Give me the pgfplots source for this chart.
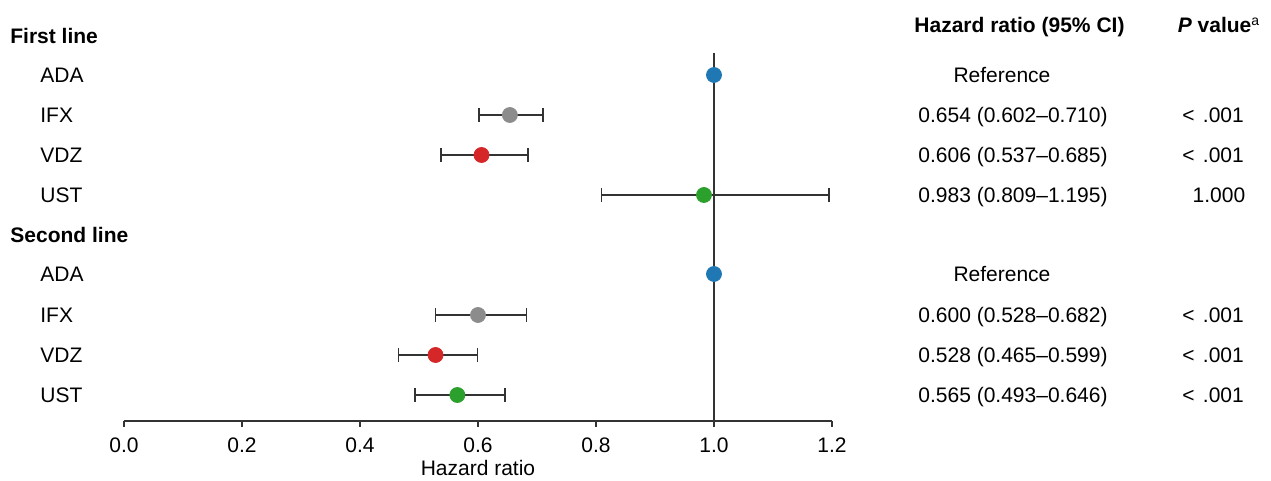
\documentclass[border=0pt]{standalone}
\usepackage{pgfplots}
\pgfplotsset{compat=1.18}
\usepackage{fontspec}
\setmainfont{Liberation Sans}

\definecolor{cblue}{HTML}{1F77B4}
\definecolor{cgrey}{HTML}{8C8C8C}
\definecolor{cred}{HTML}{D62728}
\definecolor{cgreen}{HTML}{2CA02C}
\definecolor{ink}{HTML}{333333}

% y positions are rows in pixel units, counted down from the top
\pgfplotsset{
  hrdot/.style={only marks, mark=*, mark size=3.75pt,
    mark options={draw=#1, fill=#1}, color=#1,
    error bars/.cd, x dir=both, x explicit, error mark=|,
    error bar style={draw=ink, line width=0.7pt},
    error mark options={draw=ink, mark size=3.5pt, line width=0.7pt}},
}
\newcommand{\lt}{<\hspace*{0.4em}}

\begin{document}
\begin{tikzpicture}[font=\fontsize{10.5}{12.6}\selectfont]
\begin{axis}[
  scale only axis, width=354pt, height=210.5pt,
  xmin=0, xmax=1.2, ymin=-421, ymax=0,
  axis x line=bottom, axis y line=none,
  axis line style={-, draw=ink, line width=0.7pt},
  xtick={0,0.2,0.4,0.6,0.8,1.0,1.2}, ytick=\empty,
  tick align=outside, major tick length=3pt,
  tick style={draw=ink, line width=0.7pt},
  xticklabel style={yshift=-5pt, /pgf/number format/.cd, fixed, fixed zerofill, precision=1, assume math mode=true},
  clip=false,
]
% reference line at HR = 1
\addplot[draw=ink, line width=0.7pt] coordinates {(1,-53) (1,-421)};

% first and second line
\addplot[hrdot=cblue] coordinates {(1.0,-75) (1.0,-274)};
\addplot[hrdot=cgrey] coordinates {
  (0.654,-115) += (0.056,0) -= (0.052,0)
  (0.600,-315) += (0.082,0) -= (0.072,0)
};
\addplot[hrdot=cred] coordinates {
  (0.606,-155) += (0.079,0) -= (0.069,0)
  (0.528,-355) += (0.071,0) -= (0.063,0)
};
\addplot[hrdot=cgreen] coordinates {
  (0.983,-195) += (0.212,0) -= (0.174,0)
  (0.565,-395) += (0.081,0) -= (0.072,0)
};

\tikzset{every node/.style={inner sep=0pt}}
% left labels
\node[anchor=base west] at (axis cs:-0.1932,-43.5) {\textbf{First line}};
\node[anchor=base west] at (axis cs:-0.1424,-82.5) {ADA};
\node[anchor=base west] at (axis cs:-0.1424,-122.5) {IFX};
\node[anchor=base west] at (axis cs:-0.1424,-162.5) {VDZ};
\node[anchor=base west] at (axis cs:-0.1424,-202.5) {UST};
\node[anchor=base west] at (axis cs:-0.1932,-242.5) {\textbf{Second line}};
\node[anchor=base west] at (axis cs:-0.1424,-281.5) {ADA};
\node[anchor=base west] at (axis cs:-0.1424,-322.5) {IFX};
\node[anchor=base west] at (axis cs:-0.1424,-362.5) {VDZ};
\node[anchor=base west] at (axis cs:-0.1424,-402.5) {UST};

% right columns
\node[anchor=base] at (axis cs:1.5178,-33) {\textbf{Hazard ratio (95\% CI)}};
\node[anchor=base] at (axis cs:1.8559,-33) {\textbf{\textit{P} value}\textsuperscript{\fontsize{7}{8}\selectfont a}};
\node[anchor=base] at (axis cs:1.4881,-82.5) {Reference};
\node[anchor=base] at (axis cs:1.5068,-122.5) {0.654 (0.602–0.710)};
\node[anchor=base] at (axis cs:1.5068,-162.5) {0.606 (0.537–0.685)};
\node[anchor=base] at (axis cs:1.5068,-202.5) {0.983 (0.809–1.195)};
\node[anchor=base] at (axis cs:1.4881,-281.5) {Reference};
\node[anchor=base] at (axis cs:1.5068,-322.5) {0.600 (0.528–0.682)};
\node[anchor=base] at (axis cs:1.5068,-362.5) {0.528 (0.465–0.599)};
\node[anchor=base] at (axis cs:1.5068,-402.5) {0.565 (0.493–0.646)};
\node[anchor=base] at (axis cs:1.8458,-122.5) {\lt.001};
\node[anchor=base] at (axis cs:1.8458,-162.5) {\lt.001};
\node[anchor=base] at (axis cs:1.8559,-202.5) {1.000};
\node[anchor=base] at (axis cs:1.8458,-322.5) {\lt.001};
\node[anchor=base] at (axis cs:1.8458,-362.5) {\lt.001};
\node[anchor=base] at (axis cs:1.8458,-402.5) {\lt.001};

\node[anchor=base] at (axis cs:0.6,-476) {Hazard ratio};

\coordinate (bl) at (axis cs:-0.21017,-481);
\coordinate (tr) at (axis cs:1.94407,0);
\end{axis}
\pgfresetboundingbox
\path[use as bounding box] (bl) rectangle (tr);
\end{tikzpicture}
\end{document}
